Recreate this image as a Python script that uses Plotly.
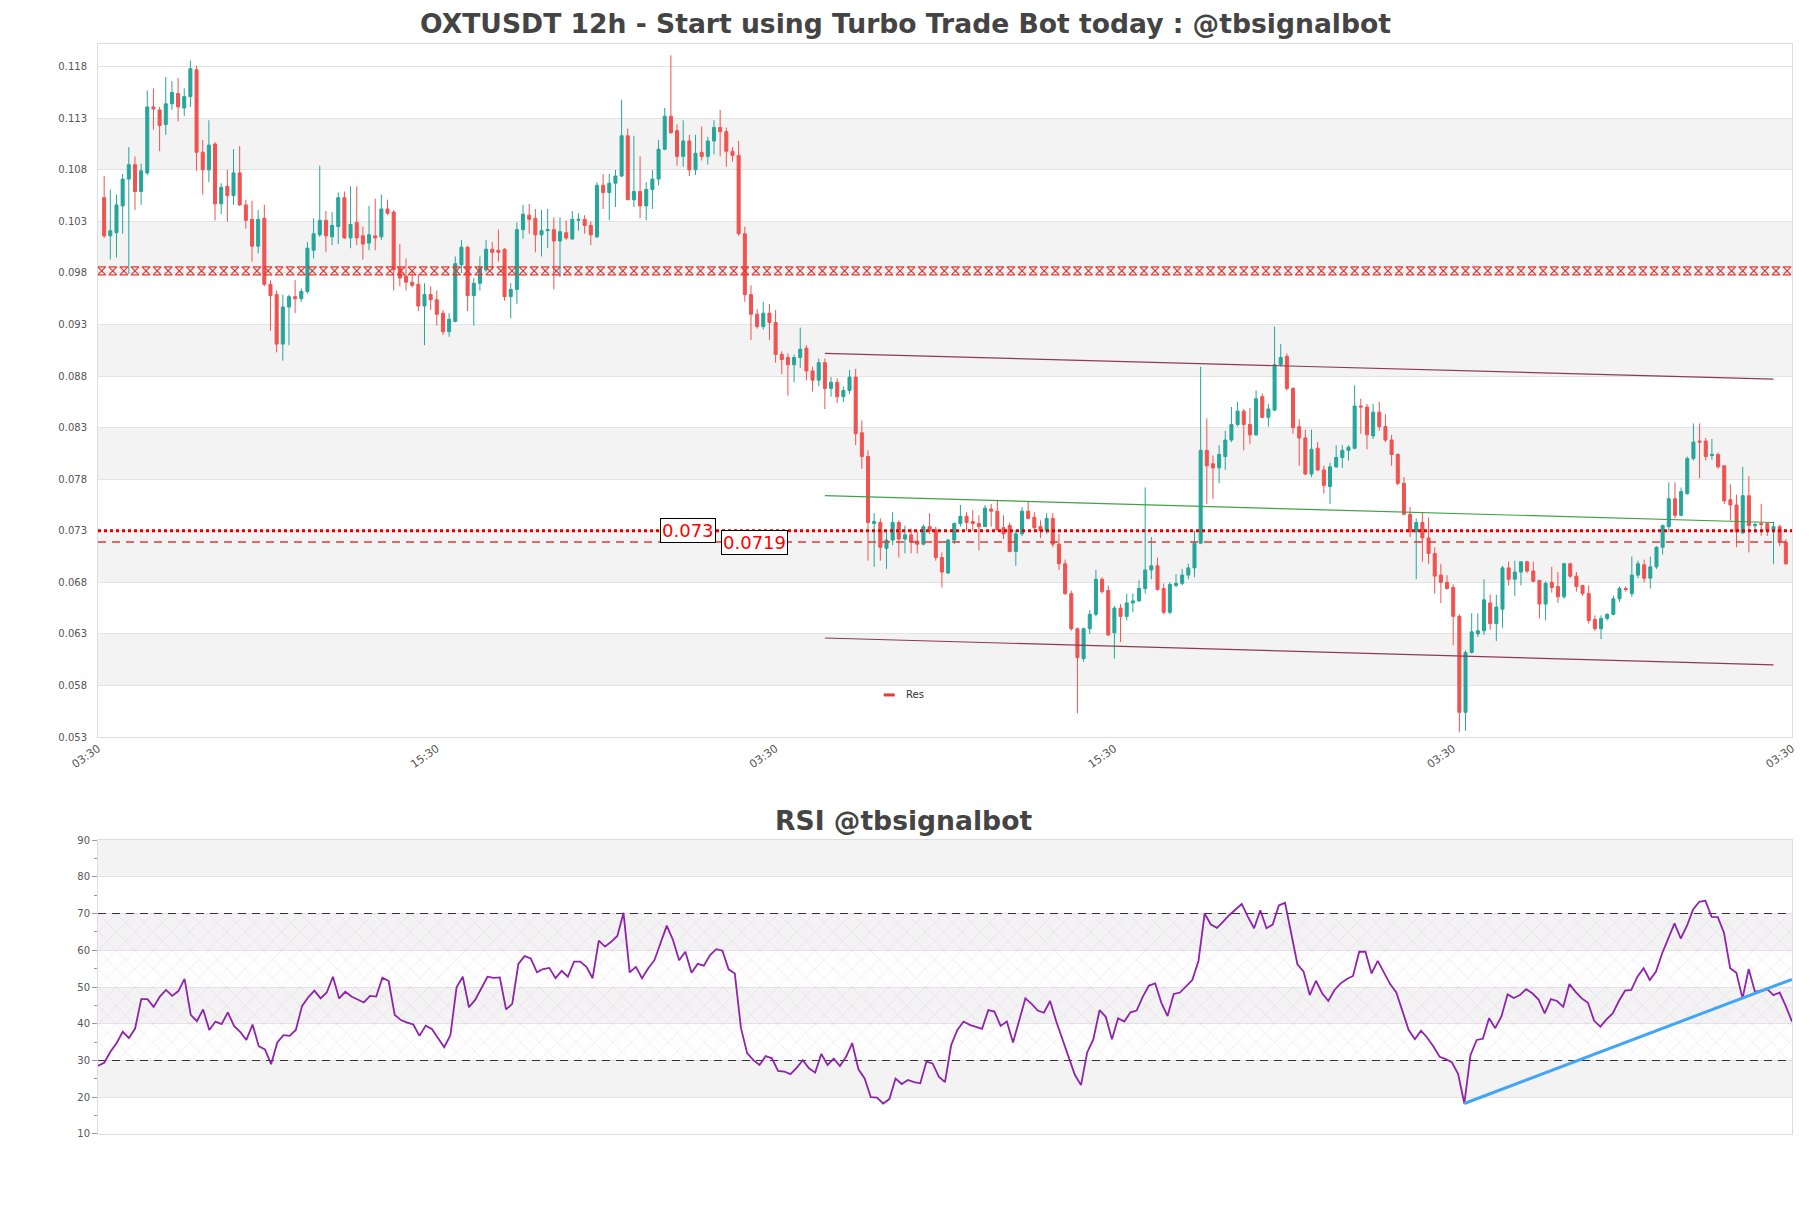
import plotly.graph_objects as go
import numpy as np

# ---------------- data ----------------
title_text = "OXTUSDT 12h - Start using Turbo Trade Bot today : @tbsignalbot"
rsi_title_text = "RSI @tbsignalbot"

candle_idx = list(range(1, 275))

opens = [0.1053,0.1016,0.1019,0.1045,0.1071,0.1085,0.1059,0.1077,0.1141,0.1138,
0.1124,0.1144,0.1154,0.1140,0.1151,0.1177,0.1097,0.1080,0.1105,0.1047,
0.1064,0.1055,0.1077,0.1046,0.1032,0.1006,0.1033,0.0969,0.0959,0.0911,
0.0947,0.0957,0.0955,0.0962,0.1002,0.1017,0.1031,0.1015,0.1025,0.1053,
0.1014,0.1029,0.1016,0.1009,0.1016,0.1015,0.1042,0.1039,0.0985,0.0977,
0.0971,0.0969,0.0948,0.0959,0.0954,0.0941,0.0923,0.0933,0.0988,0.1005,
0.0958,0.0970,0.0983,0.1003,0.1002,0.1003,0.0957,0.0964,0.1022,0.1036,
0.1033,0.1017,0.1021,0.1022,0.1011,0.1019,0.1013,0.1031,0.1032,0.1026,
0.1015,0.1065,0.1058,0.1067,0.1074,0.1113,0.1051,0.1059,0.1045,0.1061,
0.1071,0.1100,0.1132,0.1118,0.1093,0.1108,0.1080,0.1097,0.1093,0.1108,
0.1121,0.1117,0.1098,0.1094,0.1018,0.0959,0.0940,0.0928,0.0941,0.0932,
0.0901,0.0898,0.0891,0.0898,0.0907,0.0885,0.0876,0.0893,0.0868,0.0874,
0.0860,0.0866,0.0879,0.0825,0.0802,0.0737,0.0738,0.0713,0.0721,0.0738,
0.0722,0.0726,0.0720,0.0717,0.0734,0.0731,0.0704,0.0689,0.0721,0.0737,
0.0744,0.0739,0.0737,0.0734,0.0751,0.0749,0.0733,0.0735,0.0710,0.0727,
0.0749,0.0743,0.0734,0.0730,0.0742,0.0717,0.0698,0.0669,0.0635,0.0606,
0.0635,0.0649,0.0683,0.0672,0.0631,0.0655,0.0647,0.0660,0.0662,0.0674,
0.0692,0.0696,0.0674,0.0651,0.0677,0.0679,0.0687,0.0694,0.0718,0.0808,
0.0795,0.0791,0.0802,0.0818,0.0833,0.0846,0.0833,0.0823,0.0860,0.0840,
0.0847,0.0891,0.0899,0.0868,0.0831,0.0820,0.0785,0.0810,0.0789,0.0773,
0.0792,0.0801,0.0808,0.0810,0.0851,0.0850,0.0822,0.0845,0.0831,0.0818,
0.0804,0.0776,0.0746,0.0729,0.0738,0.0723,0.0708,0.0687,0.0680,0.0675,
0.0647,0.0554,0.0612,0.0630,0.0633,0.0660,0.0640,0.0654,0.0694,0.0683,
0.0690,0.0700,0.0691,0.0682,0.0659,0.0680,0.0676,0.0666,0.0698,0.0686,
0.0677,0.0669,0.0644,0.0635,0.0645,0.0649,0.0664,0.0674,0.0669,0.0687,
0.0697,0.0684,0.0695,0.0714,0.0734,0.0761,0.0745,0.0766,0.0800,0.0817,
0.0817,0.0803,0.0804,0.0793,0.0760,0.0755,0.0728,0.0764,0.0735,0.0737,
0.0737,0.0731,0.0734,0.0719]

highs = [0.1074,0.1061,0.1056,0.1076,0.1102,0.1093,0.1086,0.1157,0.1159,0.1141,
0.1170,0.1166,0.1169,0.1159,0.1186,0.1181,0.1109,0.1128,0.1107,0.1067,
0.1080,0.1100,0.1103,0.1051,0.1050,0.1041,0.1046,0.0973,0.0963,0.0959,
0.0959,0.0973,0.0965,0.1010,0.1033,0.1084,0.1040,0.1039,0.1058,0.1059,
0.1064,0.1064,0.1025,0.1045,0.1052,0.1056,0.1051,0.1041,0.1008,0.0994,
0.0983,0.0979,0.0970,0.0967,0.0963,0.0944,0.0941,0.0996,0.1012,0.1006,
0.0975,0.0996,0.1012,0.1010,0.1022,0.1004,0.0970,0.1029,0.1046,0.1047,
0.1042,0.1041,0.1042,0.1034,0.1034,0.1031,0.1040,0.1038,0.1036,0.1030,
0.1068,0.1076,0.1076,0.1080,0.1148,0.1120,0.1113,0.1093,0.1068,0.1080,
0.1109,0.1140,0.1191,0.1124,0.1128,0.1114,0.1114,0.1122,0.1112,0.1128,
0.1138,0.1121,0.1102,0.1108,0.1025,0.0968,0.0945,0.0952,0.0950,0.0944,
0.0904,0.0902,0.0901,0.0927,0.0910,0.0889,0.0897,0.0897,0.0879,0.0878,
0.0870,0.0886,0.0887,0.0837,0.0808,0.0747,0.0742,0.0730,0.0748,0.0740,
0.0735,0.0732,0.0729,0.0736,0.0747,0.0734,0.0709,0.0722,0.0738,0.0755,
0.0748,0.0750,0.0745,0.0755,0.0756,0.0759,0.0745,0.0738,0.0731,0.0753,
0.0759,0.0748,0.0740,0.0747,0.0747,0.0727,0.0702,0.0672,0.0636,0.0636,
0.0653,0.0692,0.0685,0.0677,0.0657,0.0659,0.0669,0.0669,0.0682,0.0772,
0.0724,0.0704,0.0679,0.0680,0.0688,0.0693,0.0698,0.0730,0.0889,0.0839,
0.0803,0.0813,0.0827,0.0850,0.0855,0.0848,0.0849,0.0866,0.0863,0.0853,
0.0928,0.0911,0.0902,0.0869,0.0838,0.0828,0.0828,0.0816,0.0793,0.0796,
0.0813,0.0813,0.0813,0.0871,0.0858,0.0853,0.0853,0.0855,0.0843,0.0823,
0.0805,0.0782,0.0753,0.0742,0.0748,0.0743,0.0714,0.0698,0.0687,0.0678,
0.0649,0.0614,0.0650,0.0650,0.0683,0.0668,0.0668,0.0696,0.0700,0.0701,
0.0700,0.0700,0.0700,0.0682,0.0681,0.0695,0.0690,0.0699,0.0699,0.0690,
0.0677,0.0677,0.0648,0.0648,0.0650,0.0667,0.0676,0.0676,0.0705,0.0701,
0.0702,0.0705,0.0715,0.0736,0.0777,0.0777,0.0772,0.0802,0.0834,0.0834,
0.0820,0.0819,0.0806,0.0793,0.0775,0.0765,0.0792,0.0783,0.0738,0.0756,
0.0737,0.0739,0.0736,0.0722]

lows = [0.1014,0.0993,0.0995,0.1018,0.0979,0.1041,0.1046,0.1075,0.1119,0.1098,
0.1114,0.1138,0.1127,0.1132,0.1141,0.1079,0.1056,0.1068,0.1031,0.1037,
0.1030,0.1046,0.1045,0.1023,0.0991,0.0999,0.0967,0.0924,0.0903,0.0895,
0.0910,0.0941,0.0952,0.0960,0.0994,0.1015,0.1000,0.1007,0.1008,0.1013,
0.1004,0.1007,0.0993,0.1002,0.1002,0.1012,0.1036,0.0963,0.0967,0.0963,
0.0966,0.0943,0.0910,0.0944,0.0929,0.0920,0.0918,0.0932,0.0980,0.0943,
0.0929,0.0963,0.0981,0.0983,0.0991,0.0953,0.0936,0.0950,0.1013,0.1018,
0.1000,0.0996,0.1004,0.0964,0.0976,0.1012,0.1012,0.1021,0.1018,0.1007,
0.1014,0.1042,0.1031,0.1044,0.1073,0.1051,0.1044,0.1033,0.1031,0.1042,
0.1065,0.1099,0.1115,0.1084,0.1083,0.1074,0.1075,0.1089,0.1085,0.1095,
0.1093,0.1083,0.1088,0.1016,0.0952,0.0915,0.0926,0.0925,0.0915,0.0893,
0.0882,0.0861,0.0874,0.0888,0.0876,0.0865,0.0870,0.0848,0.0860,0.0854,
0.0855,0.0863,0.0813,0.0790,0.0701,0.0695,0.0701,0.0693,0.0716,0.0704,
0.0708,0.0708,0.0708,0.0716,0.0727,0.0701,0.0675,0.0688,0.0717,0.0734,
0.0730,0.0730,0.0711,0.0734,0.0734,0.0730,0.0722,0.0709,0.0696,0.0725,
0.0741,0.0731,0.0723,0.0727,0.0714,0.0692,0.0668,0.0633,0.0553,0.0603,
0.0630,0.0647,0.0669,0.0628,0.0606,0.0622,0.0643,0.0651,0.0661,0.0669,
0.0683,0.0672,0.0649,0.0649,0.0675,0.0677,0.0683,0.0685,0.0717,0.0756,
0.0761,0.0776,0.0789,0.0816,0.0831,0.0808,0.0814,0.0822,0.0839,0.0831,
0.0846,0.0889,0.0866,0.0824,0.0793,0.0784,0.0782,0.0788,0.0766,0.0756,
0.0791,0.0791,0.0798,0.0809,0.0824,0.0809,0.0819,0.0827,0.0816,0.0793,
0.0774,0.0745,0.0724,0.0683,0.0700,0.0698,0.0669,0.0660,0.0673,0.0619,
0.0535,0.0536,0.0611,0.0627,0.0629,0.0634,0.0623,0.0636,0.0677,0.0667,
0.0677,0.0689,0.0680,0.0645,0.0643,0.0670,0.0660,0.0664,0.0684,0.0671,
0.0667,0.0640,0.0633,0.0625,0.0643,0.0648,0.0661,0.0671,0.0666,0.0684,
0.0680,0.0674,0.0693,0.0707,0.0729,0.0742,0.0744,0.0765,0.0798,0.0781,
0.0798,0.0799,0.0790,0.0756,0.0740,0.0714,0.0727,0.0709,0.0728,0.0725,
0.0725,0.0698,0.0715,0.0697]

closes = [0.1016,0.1021,0.1046,0.1071,0.1085,0.1059,0.1079,0.1141,0.1139,0.1123,
0.1144,0.1155,0.1141,0.1151,0.1178,0.1097,0.1080,0.1104,0.1047,0.1063,
0.1055,0.1077,0.1046,0.1031,0.1006,0.1032,0.0969,0.0958,0.0911,0.0947,
0.0957,0.0955,0.0962,0.1004,0.1018,0.1031,0.1016,0.1026,0.1053,0.1014,
0.1027,0.1014,0.1008,0.1017,0.1014,0.1042,0.1038,0.0983,0.0975,0.0971,
0.0968,0.0948,0.0959,0.0954,0.0940,0.0923,0.0935,0.0989,0.1005,0.0958,
0.0970,0.0985,0.1003,0.1000,0.1000,0.0957,0.0964,0.1022,0.1037,0.1032,
0.1017,0.1021,0.1022,0.1011,0.1020,0.1014,0.1032,0.1032,0.1026,0.1017,
0.1065,0.1058,0.1067,0.1074,0.1113,0.1051,0.1059,0.1045,0.1061,0.1071,
0.1100,0.1132,0.1116,0.1093,0.1108,0.1080,0.1096,0.1093,0.1108,0.1121,
0.1117,0.1098,0.1094,0.1018,0.0959,0.0940,0.0928,0.0941,0.0932,0.0901,
0.0896,0.0891,0.0898,0.0906,0.0885,0.0876,0.0893,0.0868,0.0874,0.0860,
0.0866,0.0879,0.0824,0.0802,0.0738,0.0739,0.0714,0.0721,0.0738,0.0722,
0.0726,0.0719,0.0717,0.0734,0.0730,0.0704,0.0690,0.0721,0.0737,0.0744,
0.0738,0.0737,0.0734,0.0752,0.0749,0.0731,0.0727,0.0710,0.0727,0.0749,
0.0742,0.0733,0.0730,0.0742,0.0717,0.0698,0.0669,0.0635,0.0607,0.0635,
0.0649,0.0683,0.0671,0.0629,0.0655,0.0647,0.0660,0.0662,0.0674,0.0692,
0.0696,0.0673,0.0651,0.0678,0.0679,0.0687,0.0694,0.0718,0.0808,0.0793,
0.0791,0.0804,0.0818,0.0833,0.0846,0.0833,0.0823,0.0858,0.0840,0.0848,
0.0891,0.0898,0.0868,0.0830,0.0820,0.0785,0.0809,0.0789,0.0774,0.0792,
0.0801,0.0808,0.0811,0.0851,0.0850,0.0823,0.0845,0.0831,0.0818,0.0804,
0.0776,0.0746,0.0729,0.0738,0.0723,0.0708,0.0686,0.0680,0.0674,0.0647,
0.0554,0.0612,0.0632,0.0633,0.0663,0.0640,0.0656,0.0694,0.0683,0.0690,
0.0700,0.0691,0.0681,0.0659,0.0679,0.0675,0.0666,0.0698,0.0686,0.0676,
0.0669,0.0643,0.0635,0.0645,0.0649,0.0664,0.0674,0.0673,0.0687,0.0698,
0.0684,0.0695,0.0714,0.0735,0.0761,0.0745,0.0768,0.0800,0.0816,0.0816,
0.0802,0.0804,0.0792,0.0759,0.0755,0.0729,0.0764,0.0735,0.0736,0.0736,
0.0731,0.0734,0.0719,0.0698]

rsi_values = [
28.6, 29.4, 32.4, 34.7, 37.8, 36.1, 38.7, 46.7, 46.7, 44.6,
47.4, 49.2, 47.6, 48.9, 52.2, 42.4, 40.7, 43.9, 38.3, 40.6,
39.9, 43.1, 39.4, 37.8, 35.6, 39.8, 33.9, 33.0, 29.0, 34.9,
36.9, 36.7, 38.3, 44.8, 47.2, 49.0, 46.9, 48.5, 52.8, 46.9,
48.7, 47.4, 46.6, 45.8, 47.6, 47.4, 52.5, 51.7, 42.4, 41.0,
40.3, 39.8, 36.7, 39.5, 38.6, 36.0, 33.6, 36.9, 49.9, 52.8,
44.5, 46.5, 49.6, 52.8, 52.5, 52.6, 43.9, 45.4, 56.3, 58.4,
57.8, 54.0, 54.9, 55.2, 52.4, 54.4, 52.8, 56.9, 56.9, 55.5,
52.4, 62.6, 61.0, 62.3, 63.9, 70.2, 54.0, 55.5, 52.4, 55.1,
57.3, 62.3, 66.7, 62.8, 57.3, 59.6, 53.9, 56.3, 55.8, 58.7,
60.3, 59.9, 54.8, 53.7, 38.8, 32.0, 30.1, 28.8, 31.2, 30.6,
27.2, 27.0, 26.3, 28.0, 30.1, 27.9, 26.7, 31.8, 28.8, 30.5,
28.5, 31.0, 34.7, 27.6, 25.1, 20.0, 19.9, 18.3, 19.5, 25.1,
23.6, 24.7, 24.1, 23.8, 29.7, 29.2, 25.6, 24.1, 34.2, 38.3,
40.6, 39.7, 39.2, 38.6, 43.7, 43.3, 39.4, 40.6, 34.9, 40.6,
46.9, 45.4, 43.6, 43.0, 46.2, 40.6, 35.6, 30.6, 26.1, 23.3,
32.2, 35.8, 43.7, 41.9, 35.8, 41.5, 40.6, 43.1, 43.6, 47.4,
50.4, 51.0, 45.7, 42.1, 48.1, 48.5, 50.1, 51.9, 57.1, 70.0,
67.0, 66.1, 67.8, 69.6, 71.1, 72.6, 69.1, 66.0, 70.9, 66.0,
67.0, 72.2, 72.9, 64.8, 56.2, 54.2, 47.8, 51.7, 48.3, 46.2,
49.2, 51.0, 52.2, 53.0, 59.6, 59.6, 53.7, 57.1, 53.9, 50.8,
48.5, 43.3, 38.3, 35.8, 38.1, 36.2, 33.8, 31.0, 30.4, 29.5,
26.3, 18.3, 31.5, 35.6, 35.9, 41.5, 38.8, 42.0, 48.0, 47.0,
47.8, 49.4, 48.3, 46.6, 42.8, 46.7, 46.2, 44.6, 50.8, 48.7,
46.9, 45.7, 40.8, 39.2, 41.2, 42.8, 46.2, 49.0, 49.2, 52.8,
55.1, 51.9, 54.2, 59.2, 63.5, 67.3, 63.2, 66.6, 71.1, 73.2,
73.5, 69.1, 69.0, 64.8, 55.1, 53.9, 46.9, 54.9, 48.7, 49.0,
49.4, 47.8, 48.5, 44.8, 40.6]
rsi_idx = list(range(len(rsi_values)))

x_tick_pos = [0, 55, 110, 165, 220, 275]
x_tick_text = ["03:30", "15:30", "03:30", "15:30", "03:30", "03:30"]
y_tick_vals = [0.053, 0.058, 0.063, 0.068, 0.073, 0.078, 0.083, 0.088,
               0.093, 0.098, 0.103, 0.108, 0.113, 0.118]
y_tick_text = ["0.053", "0.058", "0.063", "0.068", "0.073", "0.078", "0.083", "0.088",
               "0.093", "0.098", "0.103", "0.108", "0.113", "0.118"]
rsi_tick_vals = [10, 20, 30, 40, 50, 60, 70, 80, 90]

res_level = 0.0982
level_dotted = 0.073
level_dashed = 0.0719
level_dotted_label = "0.073"
level_dashed_label = "0.0719"

channel_x = [118, 272]
channel_upper = [0.0902, 0.0877]
channel_mid = [0.0764, 0.0738]
channel_lower = [0.0626, 0.0600]

rsi_trend_x = [221, 274]
rsi_trend_y = [18.3, 52.1]
rsi_levels = [30, 70]
rsi_zone = [30, 70]

main_bands = [(0.058, 0.063), (0.068, 0.073), (0.078, 0.083), (0.088, 0.093),
              (0.098, 0.103), (0.108, 0.113)]
rsi_bands = [(20, 30), (40, 50), (60, 70), (80, 90)]

X_MAX = 275
# ---------------- figure ----------------
fig = go.Figure()

fig.add_trace(go.Candlestick(
    x=candle_idx, open=opens, high=highs, low=lows, close=closes,
    increasing=dict(line=dict(color="#26a69a", width=1), fillcolor="#26a69a"),
    decreasing=dict(line=dict(color="#ef5350", width=1), fillcolor="#ef5350"),
    whiskerwidth=0, showlegend=False, xaxis="x", yaxis="y", hoverinfo="skip"))

# channel lines
fig.add_trace(go.Scatter(x=channel_x, y=channel_upper, mode="lines",
                         line=dict(color="#8a3b52", width=1.2), showlegend=False,
                         xaxis="x", yaxis="y"))
fig.add_trace(go.Scatter(x=channel_x, y=channel_mid, mode="lines",
                         line=dict(color="#43a047", width=1.2), showlegend=False,
                         xaxis="x", yaxis="y"))
fig.add_trace(go.Scatter(x=channel_x, y=channel_lower, mode="lines",
                         line=dict(color="#8a3b52", width=1.2), showlegend=False,
                         xaxis="x", yaxis="y"))

# resistance hatched line
hx = np.arange(0.6, X_MAX, 1.8)
fig.add_trace(go.Scatter(x=hx, y=[res_level] * len(hx), mode="markers",
                         marker=dict(symbol="hourglass-open", size=8,
                                     line=dict(color="#e53935", width=1.2), color="#e53935"),
                         showlegend=False, xaxis="x", yaxis="y", hoverinfo="skip"))

# level lines
fig.add_trace(go.Scatter(x=[0, X_MAX], y=[level_dotted, level_dotted], mode="lines",
                         line=dict(color="#e00000", width=3, dash="dot"),
                         showlegend=False, xaxis="x", yaxis="y"))
fig.add_trace(go.Scatter(x=[0, X_MAX], y=[level_dashed, level_dashed], mode="lines",
                         line=dict(color="#e53935", width=1.5, dash="8px,6px"),
                         showlegend=False, xaxis="x", yaxis="y"))

# RSI hatched zone
rmax = len(rsi_values) - 1
fig.add_trace(go.Scatter(x=[0, rmax, rmax, 0, 0],
                         y=[rsi_zone[0], rsi_zone[0], rsi_zone[1], rsi_zone[1], rsi_zone[0]],
                         mode="lines", line=dict(width=0), fill="toself",
                         fillcolor="rgba(0,0,0,0)",
                         fillpattern=dict(shape="x", fgcolor="rgba(205,165,215,0.7)",
                                          bgcolor="rgba(0,0,0,0)", size=13, solidity=0.1),
                         showlegend=False, xaxis="x2", yaxis="y2", hoverinfo="skip"))
for lv in rsi_levels:
    fig.add_trace(go.Scatter(x=[0, rmax], y=[lv, lv], mode="lines",
                             line=dict(color="#333333", width=1.2, dash="8px,6px"),
                             showlegend=False, xaxis="x2", yaxis="y2"))

fig.add_trace(go.Scatter(x=rsi_idx, y=rsi_values, mode="lines",
                         line=dict(color="#8e24aa", width=1.8),
                         showlegend=False, xaxis="x2", yaxis="y2"))
fig.add_trace(go.Scatter(x=rsi_trend_x, y=rsi_trend_y, mode="lines",
                         line=dict(color="#42a5f5", width=3),
                         showlegend=False, xaxis="x2", yaxis="y2"))

shapes = []
for b0, b1 in main_bands:
    shapes.append(dict(type="rect", xref="x domain", yref="y", x0=0, x1=1, y0=b0, y1=b1,
                       fillcolor="#f3f3f3", line=dict(width=0), layer="below"))
for b0, b1 in rsi_bands:
    shapes.append(dict(type="rect", xref="x2 domain", yref="y2", x0=0, x1=1, y0=b0, y1=b1,
                       fillcolor="#f3f3f3", line=dict(width=0), layer="below"))
# legend marker
shapes.append(dict(type="line", xref="paper", yref="paper", x0=0.4638, x1=0.4703,
                   y0=0.4028, y1=0.4028, line=dict(color="#e53935", width=3)))

annotations = [
    dict(text="<b>" + rsi_title_text + "</b>", xref="paper", yref="paper", x=0.4753, y=0.288,
         xanchor="center", yanchor="middle", showarrow=False,
         font=dict(family="DejaVu Sans", size=26.6, color="#444444")),
    dict(text="Res", xref="paper", yref="paper", x=0.4756, y=0.4028, xanchor="left",
         yanchor="middle", showarrow=False, font=dict(family="DejaVu Sans", size=10, color="#333")),
    dict(text=level_dotted_label, xref="paper", yref="y", x=0.348, y=level_dotted,
         xanchor="center", yanchor="middle", showarrow=False,
         font=dict(family="DejaVu Sans", size=18, color="#ff0000"),
         bgcolor="white", bordercolor="black", borderwidth=1, borderpad=1),
    dict(text=level_dashed_label, xref="paper", yref="y", x=0.3873, y=level_dashed,
         xanchor="center", yanchor="middle", showarrow=False,
         font=dict(family="DejaVu Sans", size=18, color="#ff0000"),
         bgcolor="white", bordercolor="black", borderwidth=1, borderpad=1),
]

tickfont = dict(family="DejaVu Sans", size=10, color="#555555")
xtickfont = dict(family="DejaVu Sans", size=11, color="#555555")

fig.update_layout(
    width=1795, height=1192, autosize=False,
    margin=dict(l=90, r=6, t=36, b=66),
    paper_bgcolor="white", plot_bgcolor="white",
    title=dict(text="<b>" + title_text + "</b>", x=0.5, xref="container", xanchor="center",
               y=1 - 16 / 1192, yref="container", yanchor="middle",
               font=dict(family="DejaVu Sans", size=26.6, color="#444444")),
    showlegend=False,
    shapes=shapes, annotations=annotations,
    xaxis=dict(domain=[0, 1], anchor="y", range=[0, X_MAX], tickmode="array",
               tickvals=x_tick_pos, ticktext=x_tick_text, tickangle=-35, tickfont=xtickfont,
               showgrid=False, zeroline=False, showline=True, linecolor="#dddddd", mirror=True,
               ticks="", rangeslider=dict(visible=False)),
    yaxis=dict(domain=[0.3642, 1], anchor="x", range=[0.053, 0.1202], tickmode="array",
               tickvals=y_tick_vals, ticktext=y_tick_text, tickfont=tickfont,
               showgrid=True, gridcolor="#e3e3e3", zeroline=False, showline=True,
               linecolor="#dddddd", mirror=True, ticks="outside", ticklen=8,
               tickcolor="rgba(0,0,0,0)"),
    xaxis2=dict(domain=[0, 1], anchor="y2", range=[0, rmax], showticklabels=False,
                showgrid=False, zeroline=False, showline=True, linecolor="#dddddd",
                mirror=True, ticks=""),
    yaxis2=dict(domain=[0, 0.2697], anchor="x2", range=[10, 90], tickmode="array",
                tickvals=rsi_tick_vals, tickfont=tickfont, showgrid=True, gridcolor="#e3e3e3",
                zeroline=False, showline=True, linecolor="#dddddd", mirror=True,
                ticks="outside", ticklen=5, tickcolor="#999999",
                minor=dict(dtick=5, tick0=5, ticks="outside", ticklen=3, tickcolor="#999999",
                           showgrid=False)),
)

fig.write_html("out.html")
